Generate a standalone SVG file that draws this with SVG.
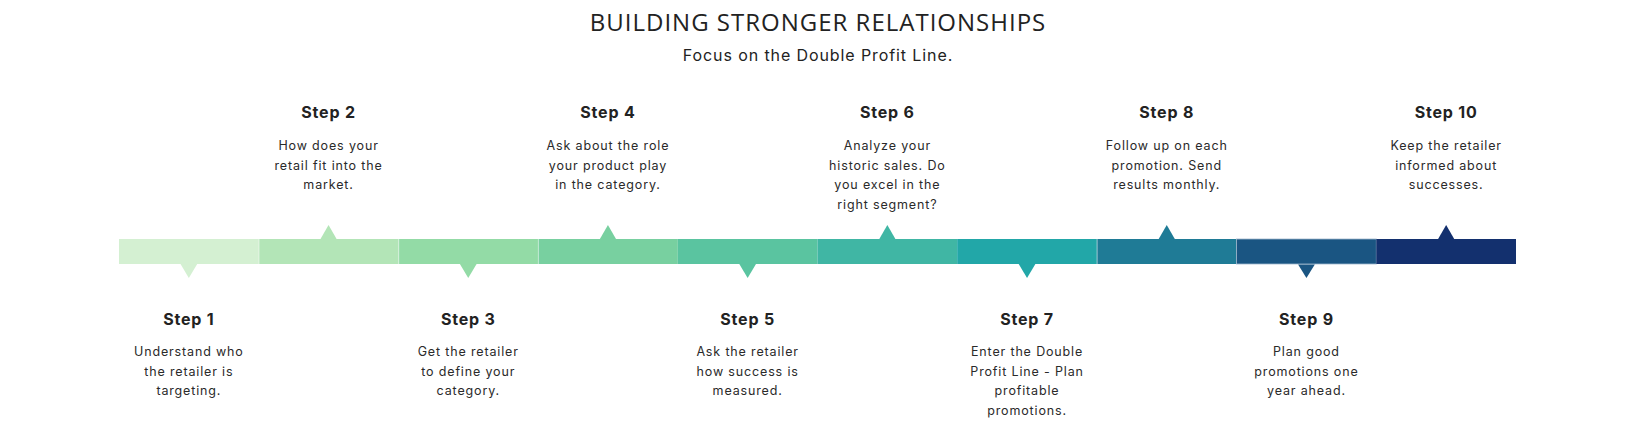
<svg xmlns="http://www.w3.org/2000/svg" width="1636" height="428" viewBox="0 0 1636 428">
<style>
.title{font-family:"Open Sans","Liberation Sans",sans-serif;font-size:24px;font-weight:400;fill:#222;letter-spacing:1px}
.sub{font-family:Inter,"Liberation Sans",sans-serif;font-size:16px;fill:#222;letter-spacing:0.9px}
.step{font-family:Inter,"Liberation Sans",sans-serif;font-size:16px;font-weight:700;fill:#222;letter-spacing:0.8px}
.desc{font-family:Inter,"Liberation Sans",sans-serif;font-size:12.5px;fill:#2a2a2a;letter-spacing:0.85px}
text{text-anchor:middle}
.sep{stroke:#ffffff;stroke-opacity:0.5;stroke-width:1}
</style>
<rect width="1636" height="428" fill="#ffffff"/>
<text class="title" x="818" y="31">BUILDING STRONGER RELATIONSHIPS</text>
<text class="sub" x="818" y="61">Focus on the Double Profit Line.</text>
<g id="connectors"></g>
<g id="step1">
<rect x="119" y="239" width="139.7" height="25" fill="#D4F0D2"/>
<polygon points="180.5,264 197.2,264 188.85,278" fill="#D4F0D2"/>
<text class="step" x="188.85" y="325">Step 1</text>
<text class="desc" x="188.85" y="356">Understand who</text>
<text class="desc" x="188.85" y="375.5">the retailer is</text>
<text class="desc" x="188.85" y="395">targeting.</text>
</g>
<g id="step2">
<rect x="258.7" y="239" width="139.7" height="25" fill="#B3E5B7"/>
<polygon points="320.5,239 336.6,239 328.55,225" fill="#B3E5B7"/>
<line class="sep" x1="259" y1="239" x2="259" y2="264"/>
<text class="step" x="328.55" y="117.7">Step 2</text>
<text class="desc" x="328.55" y="150">How does your</text>
<text class="desc" x="328.55" y="169.5">retail fit into the</text>
<text class="desc" x="328.55" y="189">market.</text>
</g>
<g id="step3">
<rect x="398.4" y="239" width="139.7" height="25" fill="#93DBA6"/>
<polygon points="459.9,264 476.6,264 468.25,278" fill="#93DBA6"/>
<line class="sep" x1="398.7" y1="239" x2="398.7" y2="264"/>
<text class="step" x="468.25" y="325">Step 3</text>
<text class="desc" x="468.25" y="356">Get the retailer</text>
<text class="desc" x="468.25" y="375.5">to define your</text>
<text class="desc" x="468.25" y="395">category.</text>
</g>
<g id="step4">
<rect x="538.1" y="239" width="139.7" height="25" fill="#78D0A0"/>
<polygon points="599.9,239 616,239 607.95,225" fill="#78D0A0"/>
<line class="sep" x1="538.4" y1="239" x2="538.4" y2="264"/>
<text class="step" x="607.95" y="117.7">Step 4</text>
<text class="desc" x="607.95" y="150">Ask about the role</text>
<text class="desc" x="607.95" y="169.5">your product play</text>
<text class="desc" x="607.95" y="189">in the category.</text>
</g>
<g id="step5">
<rect x="677.8" y="239" width="139.7" height="25" fill="#5AC4A0"/>
<polygon points="739.3,264 756,264 747.65,278" fill="#5AC4A0"/>
<text class="step" x="747.65" y="325">Step 5</text>
<text class="desc" x="747.65" y="356">Ask the retailer</text>
<text class="desc" x="747.65" y="375.5">how success is</text>
<text class="desc" x="747.65" y="395">measured.</text>
</g>
<g id="step6">
<rect x="817.5" y="239" width="139.7" height="25" fill="#40B6A4"/>
<polygon points="879.3,239 895.4,239 887.35,225" fill="#40B6A4"/>
<text class="step" x="887.35" y="117.7">Step 6</text>
<text class="desc" x="887.35" y="150">Analyze your</text>
<text class="desc" x="887.35" y="169.5">historic sales. Do</text>
<text class="desc" x="887.35" y="189">you excel in the</text>
<text class="desc" x="887.35" y="208.5">right segment?</text>
</g>
<g id="step7">
<rect x="957.2" y="239" width="139.7" height="25" fill="#22A7A8"/>
<polygon points="1018.7,264 1035.4,264 1027.05,278" fill="#22A7A8"/>
<text class="step" x="1027.05" y="325">Step 7</text>
<text class="desc" x="1027.05" y="356">Enter the Double</text>
<text class="desc" x="1027.05" y="375.5">Profit Line - Plan</text>
<text class="desc" x="1027.05" y="395">profitable</text>
<text class="desc" x="1027.05" y="414.5">promotions.</text>
</g>
<g id="step8">
<rect x="1096.9" y="239" width="139.7" height="25" fill="#1F7B96"/>
<polygon points="1158.7,239 1174.8,239 1166.75,225" fill="#1F7B96"/>
<line class="sep" x1="1097.2" y1="239" x2="1097.2" y2="264"/>
<text class="step" x="1166.75" y="117.7">Step 8</text>
<text class="desc" x="1166.75" y="150">Follow up on each</text>
<text class="desc" x="1166.75" y="169.5">promotion. Send</text>
<text class="desc" x="1166.75" y="189">results monthly.</text>
</g>
<g id="step9">
<rect x="1236.6" y="239" width="139.7" height="25" fill="#1A5582" stroke="#9fb6cc" stroke-width="0.8"/>
<polygon points="1298.1,264.4 1314.8,264.4 1306.45,278" fill="#1A5582"/>
<text class="step" x="1306.45" y="325">Step 9</text>
<text class="desc" x="1306.45" y="356">Plan good</text>
<text class="desc" x="1306.45" y="375.5">promotions one</text>
<text class="desc" x="1306.45" y="395">year ahead.</text>
</g>
<g id="step10">
<rect x="1376.3" y="239" width="139.7" height="25" fill="#13306E"/>
<polygon points="1438.1,239 1454.2,239 1446.15,225" fill="#13306E"/>
<text class="step" x="1446.15" y="117.7">Step 10</text>
<text class="desc" x="1446.15" y="150">Keep the retailer</text>
<text class="desc" x="1446.15" y="169.5">informed about</text>
<text class="desc" x="1446.15" y="189">successes.</text>
</g>
</svg>
